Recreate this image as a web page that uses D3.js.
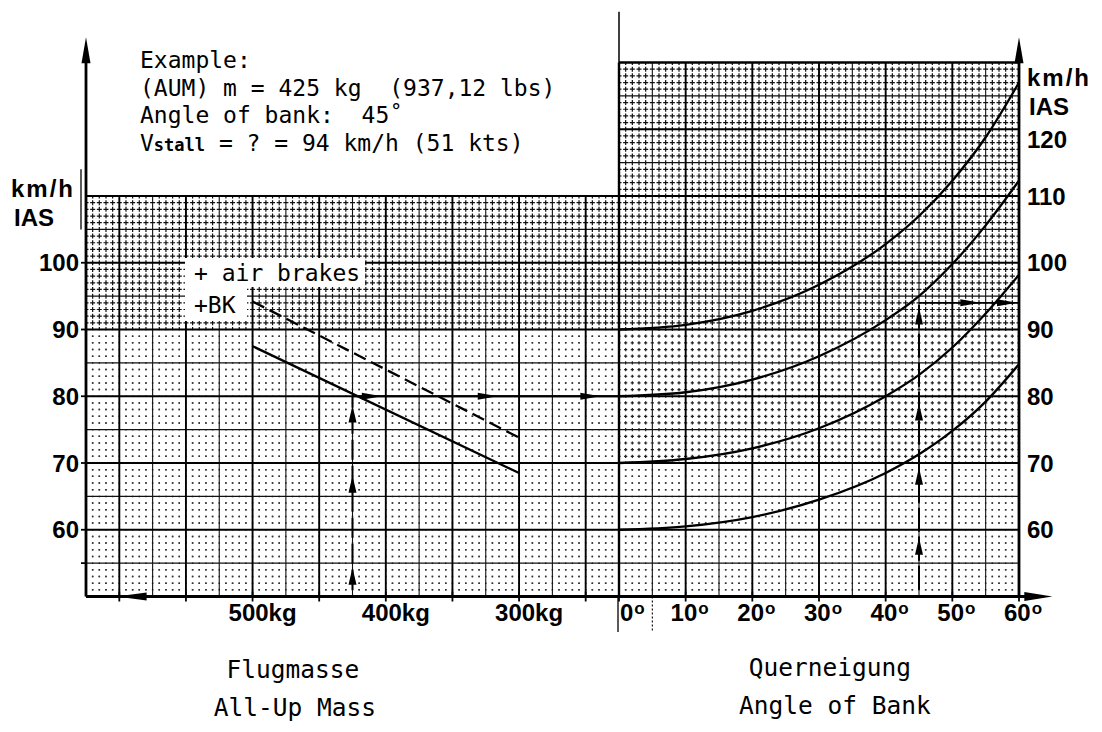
<!DOCTYPE html>
<html><head><meta charset="utf-8">
<script src="https://cdn.jsdelivr.net/npm/d3@7"></script>
<style>body{margin:0;background:#fff} svg{display:block}</style>
</head><body>
<svg id="c" width="1102" height="732"></svg>
<script>
// ---------------- data ----------------
const bankAngles = [0, 10, 20, 30, 40, 45, 50, 55, 60];
const curve60 = [60, 60.5, 61.9, 64.5, 68.5, 71.3, 74.8, 79.2, 84.8];
const curve70 = [70, 70.6, 72.2, 75.2, 80, 83.2, 87.3, 92.4, 98.2];
const curve80 = [80, 80.6, 82.5, 86, 91.4, 95, 99.8, 105.6, 112.3];
const curve90 = [90, 90.7, 92.8, 96.7, 102.8, 107, 112.3, 118.8, 127];
const massPoints = [500, 300];
const stallClean = [87.5, 68.5];
const stallBrakes = [94.2, 73.8];
const speedTicksLeft = [60, 70, 80, 90, 100];
const speedTicksRight = [60, 70, 80, 90, 100, 110, 120];
const massTicks = [500, 400, 300];
const massTickMarks = [600, 550, 500, 450, 400, 350, 300, 250];
const angleTicks = [0, 10, 20, 30, 40, 50, 60];
const exampleMass = 425, exampleBank = 45, exampleV0 = 80, exampleStall = 94;
const arrowsUpMass = [78.6, 68.1, 54.3];
const arrowsRightMass = [403, 316, 239];
const arrowsUpBank = [93.3, 78.9, 69.3, 58.8];
const arrowsRightBank = [54.2, 59.7];
const exampleText = ["Example:", "(AUM) m = 425 kg  (937,12 lbs)", "Angle of bank:  45˚"];

// ---------------- scales ----------------
const svg = d3.select('#c');
const y  = d3.scaleLinear().domain([50, 130]).range([596.5, 62.5]);
const xm = d3.scaleLinear().domain([625, 225]).range([86, 619]);
const xa = d3.scaleLinear().domain([0, 60]).range([619, 1019]);

svg.append('rect').attr('width', 1102).attr('height', 732).attr('fill', '#fff');

const styles = {
  sparse: {d: 1.5, w: 1.5, c: '#333'},
  medium: {d: 3.2, w: 1.2, c: '#222'},
  dense:  {d: 5.0, w: 1.2, c: '#111'}
};
function dotted(sel, st, period) {
  const s = styles[st];
  sel.attr('stroke', s.c).attr('stroke-width', s.w)
     .attr('stroke-dasharray', `${s.d} ${period - s.d}`)
     .attr('stroke-dashoffset', s.d / 2);
}
function styleAt(tiers, v) {
  const t = tiers.find(t => v > t.from && v < t.to);
  return t ? t.style : tiers[0].style;
}
function drawGrid(xScale, xVals, isMid, isMajor, yTop, tiers) {
  const g = svg.append('g');
  const [x0, x1] = xScale.range();
  const pX = Math.abs(xScale(xVals[1]) - xScale(xVals[0]));
  const pY = Math.abs(y(1) - y(0));
  const yVals = d3.range(50, yTop + 1, 1);
  yVals.filter(v => v % 5 !== 0).forEach(v => {
    g.append('line').attr('x1', x0).attr('x2', x1).attr('y1', y(v)).attr('y2', y(v))
      .call(dotted, styleAt(tiers, v), pX);
  });
  xVals.filter(v => !isMid(v)).forEach(v => {
    tiers.forEach(t => {
      g.append('line').attr('x1', xScale(v)).attr('x2', xScale(v))
        .attr('y1', y(t.to)).attr('y2', y(t.from)).call(dotted, t.style, pY);
    });
  });
  yVals.filter(v => v % 5 === 0 && v % 10 !== 0).forEach(v => {
    g.append('line').attr('x1', x0).attr('x2', x1).attr('y1', y(v)).attr('y2', y(v))
      .attr('stroke', '#111').attr('stroke-width', 1.1);
  });
  xVals.filter(v => isMid(v) && !isMajor(v)).forEach(v => {
    g.append('line').attr('x1', xScale(v)).attr('x2', xScale(v)).attr('y1', y(yTop)).attr('y2', y(50))
      .attr('stroke', '#111').attr('stroke-width', 1.1);
  });
  yVals.filter(v => v % 10 === 0).forEach(v => {
    g.append('line').attr('x1', x0).attr('x2', x1).attr('y1', y(v)).attr('y2', y(v))
      .attr('stroke', '#000').attr('stroke-width', 1.9);
  });
  xVals.filter(v => isMajor(v)).forEach(v => {
    g.append('line').attr('x1', xScale(v)).attr('x2', xScale(v)).attr('y1', y(yTop)).attr('y2', y(50))
      .attr('stroke', '#000').attr('stroke-width', 1.9);
  });
}

drawGrid(xm, d3.range(225, 626, 5), v => v % 25 === 0, v => v % 50 === 0, 110,
  [{from: 50, to: 90, style: 'sparse'}, {from: 90, to: 110, style: 'dense'}]);
drawGrid(xa, d3.range(0, 61, 1), v => v % 5 === 0, v => v % 10 === 0, 130,
  [{from: 50, to: 70, style: 'sparse'}, {from: 70, to: 90, style: 'medium'}, {from: 90, to: 130, style: 'dense'}]);

const mono = "'DejaVu Sans Mono', 'Liberation Mono', monospace";
const sans = "'Liberation Sans', Arial, Helvetica, sans-serif";
svg.append('rect').attr('x', 185).attr('y', 258).attr('width', 180).attr('height', 29).attr('fill', '#fff');
svg.append('rect').attr('x', 185).attr('y', 286).attr('width', 62).attr('height', 35).attr('fill', '#fff');
svg.append('text').attr('x', 194).attr('y', 281).attr('font-family', mono).attr('font-size', 23)
  .attr('fill', '#000').text('+ air brakes');
svg.append('text').attr('x', 194).attr('y', 313).attr('font-family', mono).attr('font-size', 23)
  .attr('fill', '#000').text('+BK');

// ---------------- stall lines ----------------
const lineM = d3.line().x(d => xm(d[0])).y(d => y(d[1]));
svg.append('path').attr('d', lineM(massPoints.map((m, i) => [m, stallClean[i]])))
  .attr('fill', 'none').attr('stroke', '#000').attr('stroke-width', 2.3);
svg.append('path').attr('d', lineM(massPoints.map((m, i) => [m, stallBrakes[i]])))
  .attr('fill', 'none').attr('stroke', '#000').attr('stroke-width', 2.3).attr('stroke-dasharray', '13 6');

const lineA = d3.line().x(d => xa(d[0])).y(d => y(d[1])).curve(d3.curveMonotoneX);
[curve60, curve70, curve80, curve90].forEach(c => {
  svg.append('path').attr('d', lineA(bankAngles.map((a, i) => [a, c[i]])))
    .attr('fill', 'none').attr('stroke', '#000').attr('stroke-width', 2.3);
});

// ---------------- example arrows ----------------
function arrow(x, yy, dir, len, hw) {
  let p;
  if (dir === 'up') p = [[x, yy], [x - hw, yy + len], [x + hw, yy + len]];
  if (dir === 'right') p = [[x, yy], [x - len, yy - hw], [x - len, yy + hw]];
  if (dir === 'left') p = [[x, yy], [x + len, yy - hw], [x + len, yy + hw]];
  svg.append('path').attr('d', 'M' + p.join('L') + 'Z').attr('fill', '#000');
}
svg.append('line').attr('x1', xm(exampleMass)).attr('x2', xm(exampleMass))
  .attr('y1', y(51)).attr('y2', y(exampleV0)).attr('stroke', '#000').attr('stroke-width', 2)
  .attr('stroke-dasharray', '20 6');
arrowsUpMass.forEach(v => arrow(xm(exampleMass), y(v), 'up', 17, 4));
svg.append('line').attr('x1', xm(exampleMass)).attr('x2', xa(0))
  .attr('y1', y(exampleV0)).attr('y2', y(exampleV0)).attr('stroke', '#000').attr('stroke-width', 2);
arrowsRightMass.forEach(m => arrow(xm(m), y(exampleV0), 'right', 20, 3.5));

svg.append('line').attr('x1', xa(exampleBank)).attr('x2', xa(exampleBank))
  .attr('y1', y(51)).attr('y2', y(exampleStall)).attr('stroke', '#000').attr('stroke-width', 2)
  .attr('stroke-dasharray', '24 5');
arrowsUpBank.forEach(v => arrow(xa(exampleBank), y(v), 'up', 17, 4));
svg.append('line').attr('x1', xa(exampleBank)).attr('x2', xa(60))
  .attr('y1', y(exampleStall)).attr('y2', y(exampleStall)).attr('stroke', '#000').attr('stroke-width', 1.8);
arrowsRightBank.forEach(a => arrow(xa(a), y(exampleStall), 'right', 20, 3.5));

// ---------------- axes / frame ----------------
const frame = svg.append('g').attr('stroke', '#000').attr('fill', 'none');
frame.append('line').attr('x1', xm(625)).attr('x2', xm(225)).attr('y1', y(110)).attr('y2', y(110)).attr('stroke-width', 1.8);
frame.append('line').attr('x1', xa(0)).attr('x2', xa(60)).attr('y1', y(130)).attr('y2', y(130)).attr('stroke-width', 1.8);
frame.append('line').attr('x1', xa(0)).attr('x2', xa(0)).attr('y1', y(137.6)).attr('y2', y(130)).attr('stroke-width', 1.5);
frame.append('line').attr('x1', xa(0)).attr('x2', xa(0)).attr('y1', y(130)).attr('y2', y(50)).attr('stroke-width', 2.4);
frame.append('line').attr('x1', xa(0) - 1).attr('x2', xa(0) - 1).attr('y1', y(50)).attr('y2', y(44.7)).attr('stroke-width', 1.3);
frame.append('line').attr('x1', xa(5)).attr('x2', xa(5)).attr('y1', y(50)).attr('y2', y(44.7)).attr('stroke-width', 1.1).attr('stroke-dasharray', '2 2');
frame.append('line').attr('x1', xm(625)).attr('x2', xm(625)).attr('y1', y(50)).attr('y2', y(131)).attr('stroke-width', 2.8);
frame.append('line').attr('x1', xm(625) - 5).attr('x2', xm(625) - 5).attr('y1', y(114)).attr('y2', y(105)).attr('stroke-width', 1.3);
frame.append('line').attr('x1', xa(60)).attr('x2', xa(60)).attr('y1', y(50)).attr('y2', y(131)).attr('stroke-width', 2.8);
frame.append('line').attr('x1', xm(625)).attr('x2', xa(62)).attr('y1', y(50)).attr('y2', y(50)).attr('stroke-width', 3.2);
arrow(xm(625), y(133.8), 'up', 26, 4.5);
arrow(xa(60), y(133.8), 'up', 26, 4.5);
arrow(xa(65), y(50), 'right', 28, 4.5);
arrow(xm(602), y(50), 'left', 30, 4);
massTickMarks.forEach(m => frame.append('line').attr('x1', xm(m)).attr('x2', xm(m))
  .attr('y1', y(50) - 5).attr('y2', y(50) + 5).attr('stroke-width', 1.8));
angleTicks.forEach(a => frame.append('line').attr('x1', xa(a)).attr('x2', xa(a))
  .attr('y1', y(50) - 5).attr('y2', y(50) + 5).attr('stroke-width', 1.8));
[55].concat(speedTicksLeft).forEach(v => frame.append('line').attr('x1', xm(625) - 5).attr('x2', xm(625))
  .attr('y1', y(v)).attr('y2', y(v)).attr('stroke-width', 1.8));

// ---------------- text ----------------
const lbl = svg.append('g').attr('font-family', sans).attr('font-weight', 'bold').attr('font-size', 24).attr('fill', '#000');
speedTicksLeft.forEach(v => lbl.append('text').attr('x', 79).attr('y', y(v)).attr('dy', '0.36em')
  .attr('text-anchor', 'end').text(v));
speedTicksRight.forEach(v => lbl.append('text').attr('x', 1027).attr('y', y(v) + (v === 120 ? 10 : 0)).attr('dy', '0.36em')
  .text(v));
lbl.append('text').attr('x', 11).attr('y', 197).attr('letter-spacing', 2).text('km/h');
lbl.append('text').attr('x', 14).attr('y', 226).text('IAS');
lbl.append('text').attr('x', 1027).attr('y', 86).attr('letter-spacing', 2).text('km/h');
lbl.append('text').attr('x', 1029).attr('y', 115).text('IAS');
massTicks.forEach(m => lbl.append('text').attr('x', xm(m) + 10).attr('y', 621).attr('text-anchor', 'middle').text(m + 'kg'));
angleTicks.forEach(a => {
  const t = lbl.append('text').attr('x', xa(a) + (a === 0 ? 1 : 4)).attr('y', 621)
    .attr('text-anchor', a === 0 ? 'start' : 'middle');
  t.append('tspan').text(a);
  t.append('tspan').attr('font-size', 17).attr('dy', -7).attr('dx', 1).text('o');
});

const tx = svg.append('g').attr('font-family', mono).attr('font-size', 23).attr('fill', '#000');
exampleText.forEach((t, i) => tx.append('text').attr('x', 140).attr('y', 68 + i * 27.5).attr('xml:space', 'preserve').text(t));
const vs = tx.append('text').attr('x', 140).attr('y', 68 + 3 * 27.5).attr('xml:space', 'preserve');
vs.append('tspan').text('V');
vs.append('tspan').attr('font-size', 17).attr('font-weight', 'bold').text('stall');
vs.append('tspan').text(' = ? = ' + exampleStall + ' km/h (51 kts)');

const tt = svg.append('g').attr('font-family', mono).attr('font-size', 24.5).attr('fill', '#000').attr('text-anchor', 'middle');
tt.append('text').attr('x', 293).attr('y', 678).text('Flugmasse');
tt.append('text').attr('x', 295).attr('y', 716).text('All-Up Mass');
tt.append('text').attr('x', 830).attr('y', 676).text('Querneigung');
tt.append('text').attr('x', 835).attr('y', 714).text('Angle of Bank');
</script>
</body></html>
